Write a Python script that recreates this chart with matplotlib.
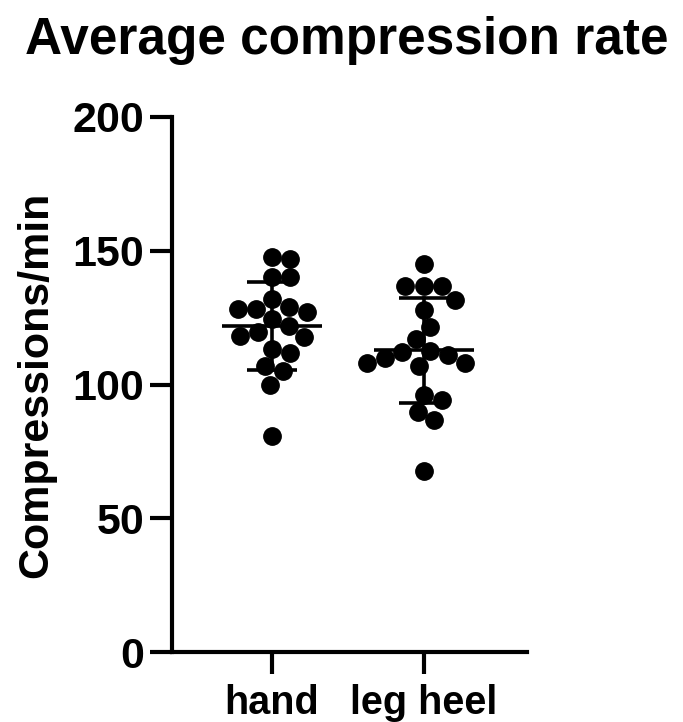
import numpy as np
import matplotlib
matplotlib.use("Agg")
import matplotlib.pyplot as plt

plt.rcParams['font.family'] = ['Liberation Sans', 'DejaVu Sans']
plt.rcParams['font.weight'] = 'bold'

categories = ["hand", "leg heel"]
hand = [147.6, 147.1, 140.1, 140.1, 131.9, 128.2, 128.2, 128.9, 127.1, 124.4,
        121.7, 117.9, 119.8, 118.2, 113.3, 111.7, 106.9, 105.0, 100.0, 80.9]
leg_heel = [144.9, 136.7, 136.7, 136.7, 131.7, 127.9, 121.4, 117.0, 112.3, 111.0,
            112.5, 109.8, 107.9, 107.0, 107.9, 94.1, 96.2, 89.7, 86.8, 67.8]
series = [hand, leg_heel]
yticks = [0, 50, 100, 150, 200]

W, H = 683, 722
fig = plt.figure(figsize=(W / 100, H / 100), dpi=100)
left, right = 172 / W, 527 / W
bottom, top = (H - 652) / H, (H - 117) / H
ax = fig.add_axes([left, bottom, right - left, top - bottom])

ax.set_ylim(0, 200)
ax.set_xlim(-0.658, 1.678)

# pixel scales for swarm layout
px_per_x = (527 - 172) / (1.678 + 0.658)
px_per_y = (652 - 117) / 200.0
dmin = 18.5  # px, min centre distance


def swarm(vals):
    order = np.argsort(-np.asarray(vals), kind="stable")
    placed = []  # (y_px, x_px)
    offs = np.zeros(len(vals))
    for i in order:
        y = vals[i] * px_per_y
        cands = [0.0]
        for (yy, xx) in placed:
            dy = abs(y - yy)
            if dy < dmin:
                dx = np.sqrt(dmin ** 2 - dy ** 2)
                cands += [xx + dx, xx - dx]
        cands = sorted(cands, key=lambda c: (abs(c), -c))
        for c in cands:
            ok = all((c - xx) ** 2 + (y - yy) ** 2 >= dmin ** 2 - 1e-6 for (yy, xx) in placed)
            if ok:
                offs[i] = c
                placed.append((y, c))
                break
    return offs / px_per_x


for k, vals in enumerate(series):
    vals = np.asarray(vals)
    offs = swarm(vals)
    ax.plot(k + offs, vals, 'o', color='black', ms=12.5, mec='black', zorder=3,
            clip_on=False)
    m = vals.mean()
    sd = vals.std(ddof=1)
    ax.plot([k - 0.33, k + 0.33], [m, m], color='black', lw=2.6, zorder=4,
            solid_capstyle='butt')
    ax.plot([k, k], [m - sd, m + sd], color='black', lw=2.6, zorder=4)
    for v in (m - sd, m + sd):
        ax.plot([k - 0.165, k + 0.165], [v, v], color='black', lw=2.6, zorder=4,
                solid_capstyle='butt')

for s in ['top', 'right']:
    ax.spines[s].set_visible(False)
for s in ['left', 'bottom']:
    ax.spines[s].set_linewidth(3)
    ax.spines[s].set_capstyle('projecting')

ax.set_yticks(yticks)
ax.set_yticklabels([str(t) for t in yticks], fontsize=31, fontweight='bold')
ax.set_xticks(range(len(categories)))
ax.set_xticklabels(categories, fontsize=28.5, fontweight='bold')
ax.tick_params(axis='both', length=16, width=3, color='black')
ax.tick_params(axis='y', pad=4)
ax.tick_params(axis='x', pad=7)

ax.set_ylabel("Compressions/min", fontsize=31, fontweight='bold', labelpad=12)
fig.text((28 + 665) / 2 / W, (H - 54) / H, "Average compression rate", ha='center',
         va='baseline', fontsize=37, fontweight='bold')

fig.savefig("out.png", dpi=100)
